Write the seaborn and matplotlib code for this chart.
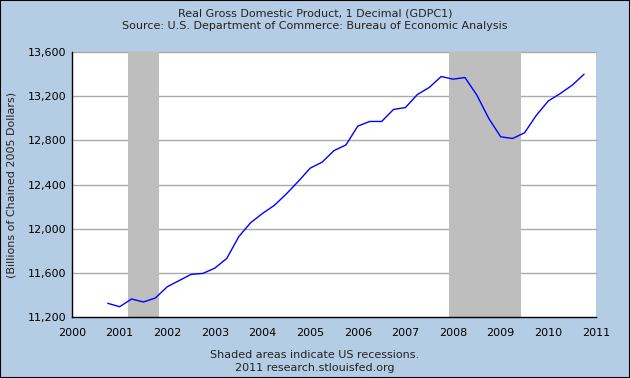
import numpy as np
import pandas as pd
import matplotlib
matplotlib.use("Agg")
import matplotlib.pyplot as plt
import seaborn as sns

# DADOS - PIB REAL (GDPC1), TRIMESTRAL
trimestres = [2000.75, 2001.00, 2001.25, 2001.50, 2001.75, 2002.00, 2002.25, 2002.50,
              2002.75, 2003.00, 2003.25, 2003.50, 2003.75, 2004.00, 2004.25, 2004.50,
              2004.75, 2005.00, 2005.25, 2005.50, 2005.75, 2006.00, 2006.25, 2006.50,
              2006.75, 2007.00, 2007.25, 2007.50, 2007.75, 2008.00, 2008.25, 2008.50,
              2008.75, 2009.00, 2009.25, 2009.50, 2009.75, 2010.00, 2010.25, 2010.50,
              2010.75]
pib = [11324, 11293, 11363, 11336, 11372, 11474, 11530, 11586,
       11595, 11643, 11731, 11927, 12054, 12138, 12212, 12315,
       12428, 12548, 12602, 12707, 12758, 12929, 12971, 12971,
       13080, 13097, 13215, 13279, 13378, 13354, 13369, 13209,
       12998, 12832, 12817, 12868, 13028, 13157, 13224, 13299,
       13399]
recessoes = [(2001.17, 2001.83), (2007.92, 2009.42)]
anos = list(range(2000, 2012))
niveis_y = [11200, 11600, 12000, 12400, 12800, 13200, 13600]

df = pd.DataFrame({"data": trimestres, "pib": pib})

sns.set_style("white")
plt.rcParams["font.family"] = ["DejaVu Sans"]

fundo = "#b4cde4"
fig = plt.figure(figsize=(6.3, 3.78), dpi=100, facecolor=fundo)
ax = fig.add_axes([0.1143, 0.1614, 0.8317, 0.7010])
ax.set_facecolor("white")

for ini, fim in recessoes:
    ax.axvspan(ini, fim, color="#bebebe", lw=0, zorder=1)

for nivel in niveis_y[1:]:
    ax.axhline(nivel, color="#aaaaaa", lw=1, zorder=0.5, clip_on=False)

sns.lineplot(data=df, x="data", y="pib", color="#0000ff", lw=1, ax=ax, zorder=3)

ax.set_xlim(2000, 2011)
ax.set_ylim(11200, 13600)
ax.set_xticks(anos)
ax.set_xticklabels([str(a) for a in anos])
ax.set_yticks(niveis_y)
ax.set_yticklabels([f"{v:,}" for v in niveis_y])
ax.tick_params(axis="x", direction="in", length=5, width=1, colors="black",
               labelsize=8, pad=8)
ax.tick_params(axis="y", direction="out", length=3, width=1, colors="black",
               labelsize=8, pad=1)
ax.set_xlabel("")
ax.set_ylabel("(Billions of Chained 2005 Dollars)", fontsize=8, color="#222222",
              labelpad=8)

for lado in ["top", "right"]:
    ax.spines[lado].set_visible(False)
for lado in ["left", "bottom"]:
    ax.spines[lado].set_color("black")
    ax.spines[lado].set_linewidth(1)

fig.text(0.5, 1 - 14 / 378, "Real Gross Domestic Product, 1 Decimal (GDPC1)",
         ha="center", va="center", fontsize=8, color="#222222")
fig.text(0.5, 1 - 26 / 378, "Source: U.S. Department of Commerce: Bureau of Economic Analysis",
         ha="center", va="center", fontsize=8, color="#222222")
fig.text(0.5, 1 - 355 / 378, "Shaded areas indicate US recessions.",
         ha="center", va="center", fontsize=8, color="#222222")
fig.text(0.5, 1 - 368 / 378, "2011 research.stlouisfed.org",
         ha="center", va="center", fontsize=8, color="#222222")

borda = plt.Rectangle((0, 0), 1, 1, transform=fig.transFigure, fill=False,
                      edgecolor="black", lw=1.5)
fig.patches.append(borda)

fig.savefig("out.png", dpi=100, facecolor=fundo)
